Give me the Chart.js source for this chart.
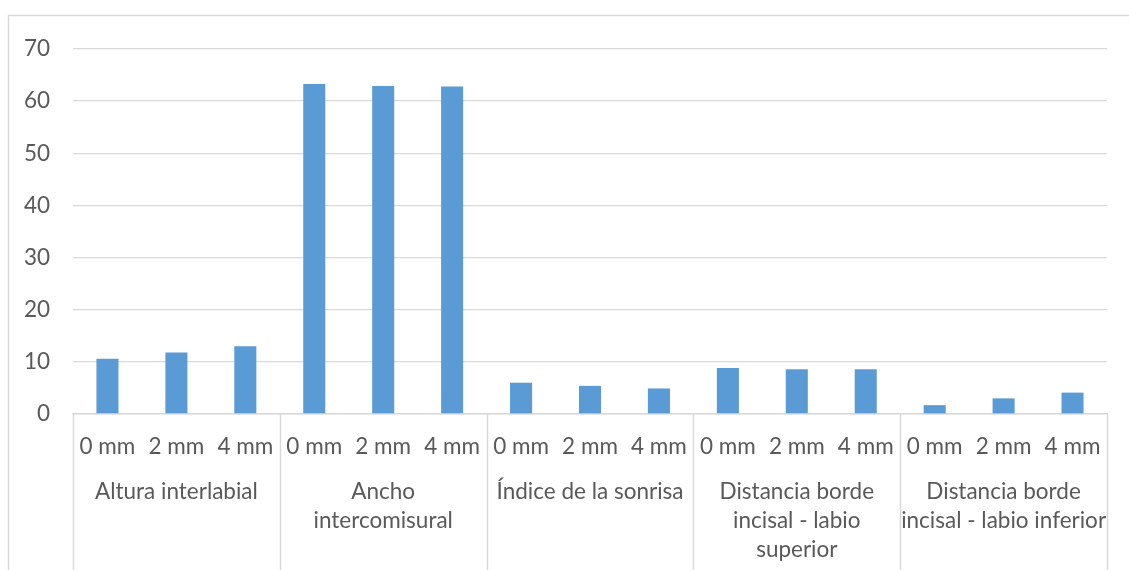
<!DOCTYPE html>
<html>
<head>
<meta charset="utf-8">
<script src="https://cdn.jsdelivr.net/npm/chart.js@4/dist/chart.umd.min.js"></script>
<style>
  html, body { margin: 0; padding: 0; background: #ffffff; }
  #wrap { position: relative; width: 1129px; height: 570px; }
</style>
</head>
<body>
<div id="wrap"><canvas id="chart" width="1129" height="570"></canvas></div>
<script>
// Sub-category (distance) labels repeated under every group
const distances = ["0 mm", "2 mm", "4 mm"];

// Measurement groups, with their label lines
const groups = [
  ["Altura interlabial"],
  ["Ancho", "intercomisural"],
  ["Índice de la sonrisa"],
  ["Distancia borde", "incisal - labio", "superior"],
  ["Distancia borde", "incisal - labio inferior"]
];

// Mean values per group at 0, 2 and 4 mm
const alturaInterlabial = [10.6, 11.8, 13.0];
const anchoIntercomisural = [63.3, 62.9, 62.8];
const indiceSonrisa = [6.0, 5.4, 4.9];
const bordeLabioSuperior = [8.8, 8.6, 8.6];
const bordeLabioInferior = [1.7, 3.0, 4.1];

// Y-axis ticks
const yTicks = [0, 10, 20, 30, 40, 50, 60, 70];

const seriesByGroup = [alturaInterlabial, anchoIntercomisural, indiceSonrisa, bordeLabioSuperior, bordeLabioInferior];
const labels = [];
const values = [];
seriesByGroup.forEach(vals => {
  vals.forEach((v, i) => { labels.push(distances[i]); values.push(v); });
});

const FONT = "Lato, 'Open Sans', sans-serif";
const FONT_SIZE = 22.5;
const TEXT = "#595959";
const LINE = "#d9d9d9";

// Draws the outer frame, group separators and multi-line group labels
const groupAxisPlugin = {
  id: "groupAxis",
  afterDraw(chart) {
    const ctx = chart.ctx;
    const x = chart.scales.x;
    const area = chart.chartArea;
    const half = (x.getPixelForValue(1) - x.getPixelForValue(0)) / 2;
    ctx.save();
    // frame
    ctx.strokeStyle = LINE;
    ctx.lineWidth = 1.5;
    ctx.beginPath();
    ctx.moveTo(8.5, chart.height);
    ctx.lineTo(8.5, 15.5);
    ctx.lineTo(chart.width, 15.5);
    ctx.stroke();
    // separators
    ctx.lineWidth = 1.5;
    let idx = 0;
    const bounds = [];
    groups.forEach((g, gi) => {
      bounds.push(x.getPixelForValue(idx) - half);
      idx += seriesByGroup[gi].length;
    });
    bounds.push(x.getPixelForValue(idx - 1) + half);
    bounds.forEach(b => {
      ctx.beginPath();
      ctx.moveTo(Math.round(b) + 0.5, area.bottom);
      ctx.lineTo(Math.round(b) + 0.5, chart.height);
      ctx.stroke();
    });
    // group labels
    ctx.fillStyle = TEXT;
    ctx.font = FONT_SIZE + "px " + FONT;
    ctx.textAlign = "center";
    ctx.textBaseline = "middle";
    groups.forEach((g, gi) => {
      const cx = (bounds[gi] + bounds[gi + 1]) / 2;
      g.forEach((line, li) => {
        ctx.fillText(line, cx, area.bottom + 78 + li * 29);
      });
    });
    ctx.restore();
  }
};

new Chart(document.getElementById("chart"), {
  type: "bar",
  data: {
    labels: labels,
    datasets: [{
      data: values,
      backgroundColor: "#5B9BD5",
      borderWidth: 0,
      categoryPercentage: 1,
      barPercentage: 0.32
    }]
  },
  options: {
    responsive: false,
    animation: false,
    devicePixelRatio: 1,
    layout: { padding: { left: 0, top: 49, right: 22, bottom: 0 } },
    plugins: { legend: { display: false }, tooltip: { enabled: false } },
    scales: {
      x: {
        grid: { display: false, drawTicks: false },
        border: { display: true, color: LINE, width: 1.5 },
        ticks: {
          color: TEXT,
          font: { family: FONT, size: FONT_SIZE },
          padding: 19,
          maxRotation: 0,
          autoSkip: false
        },
        afterFit(scale) { scale.height = 156; }
      },
      y: {
        min: 0,
        max: 70,
        afterBuildTicks(scale) { scale.ticks = yTicks.map(v => ({ value: v })); },
        grid: { color: LINE, lineWidth: 1.3, drawTicks: false },
        border: { display: false },
        ticks: {
          color: TEXT,
          font: { family: FONT, size: FONT_SIZE },
          padding: 23
        },
        afterFit(scale) { scale.width = 73; }
      }
    }
  },
  plugins: [groupAxisPlugin]
});
</script>
</body>
</html>
